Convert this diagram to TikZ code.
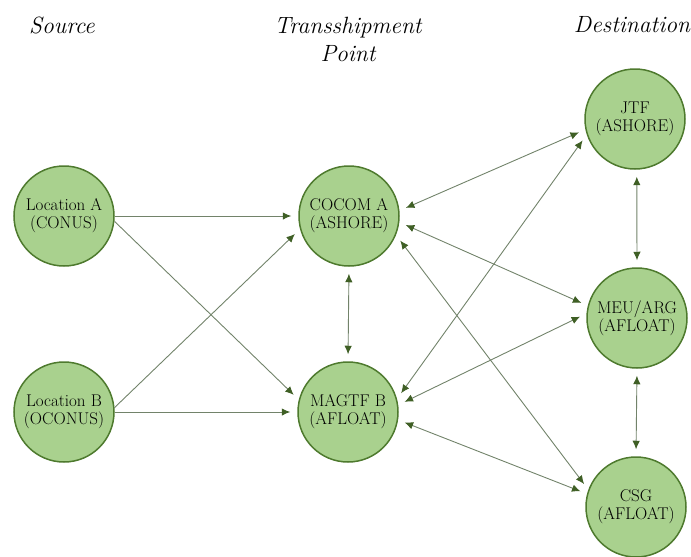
\documentclass[tikz,border=0pt]{standalone}
\usepackage{fontspec}
\setmainfont{Latin Modern Roman}
\usetikzlibrary{arrows.meta}
\definecolor{nodefill}{HTML}{A9D18E}
\definecolor{nodeline}{HTML}{4E7A2E}
\definecolor{linkcol}{HTML}{72836A}
\definecolor{tipcol}{HTML}{3F5F25}
\tikzset{
  loc/.style={circle, draw=nodeline, line width=1.5pt, fill=nodefill, minimum size=100pt, inner sep=0pt, align=center, font=\fontsize{17}{18}\selectfont},
  head/.style={font=\itshape\fontsize{23.5}{28}\selectfont, align=center},
  link/.style={draw=linkcol, line width=0.9pt, -{Latex[length=8.5pt,width=7.5pt,color=tipcol]}, shorten >=7pt},
  blink/.style={draw=linkcol, line width=0.9pt, {Latex[length=8.5pt,width=7.5pt,color=tipcol]}-{Latex[length=8.5pt,width=7.5pt,color=tipcol]}, shorten >=7pt, shorten <=7pt}
}
\begin{document}
\begin{tikzpicture}[x=1pt,y=-1pt]
\useasboundingbox (0,0) rectangle (691,557);
\node[head] (hs) at (62,25) {Source};
\node[head] (ht) at (348,39) {Transshipment\\Point};
\node[head] (hd) at (632,25) {Destination};

\node[loc] (la) at (64,216) {Location A\\(CONUS)};
\node[loc] (lb) at (64,412) {Location B\\(OCONUS)};
\node[loc] (co) at (349,216) {COCOM A\\(ASHORE)};
\node[loc] (ma) at (348,412) {MAGTF B\\(AFLOAT)};
\node[loc] (jt) at (635,119) {JTF\\(ASHORE)};
\node[loc] (me) at (637,318) {MEU/ARG\\(AFLOAT)};
\node[loc] (cs) at (636,507) {CSG\\(AFLOAT)};

\draw[link] (la.0) -- (co.180);
\draw[link] (la.-6) -- (ma.166);
\draw[link] (lb.5) -- (co.195);
\draw[link] (lb.0) -- (ma.180);

\draw[blink] (co.270) -- (ma.90);
\draw[blink] (co.6) -- (jt.192);
\draw[blink] (co.-7) -- (me.166);
\draw[blink] (co.-22) -- (cs.160);
\draw[blink] (ma.15) -- (jt.198);
\draw[blink] (ma.8) -- (me.175);
\draw[blink] (ma.-9) -- (cs.165);
\draw[blink] (jt.272) -- (me.90);
\draw[blink] (me.270) -- (cs.90);
\end{tikzpicture}
\end{document}
